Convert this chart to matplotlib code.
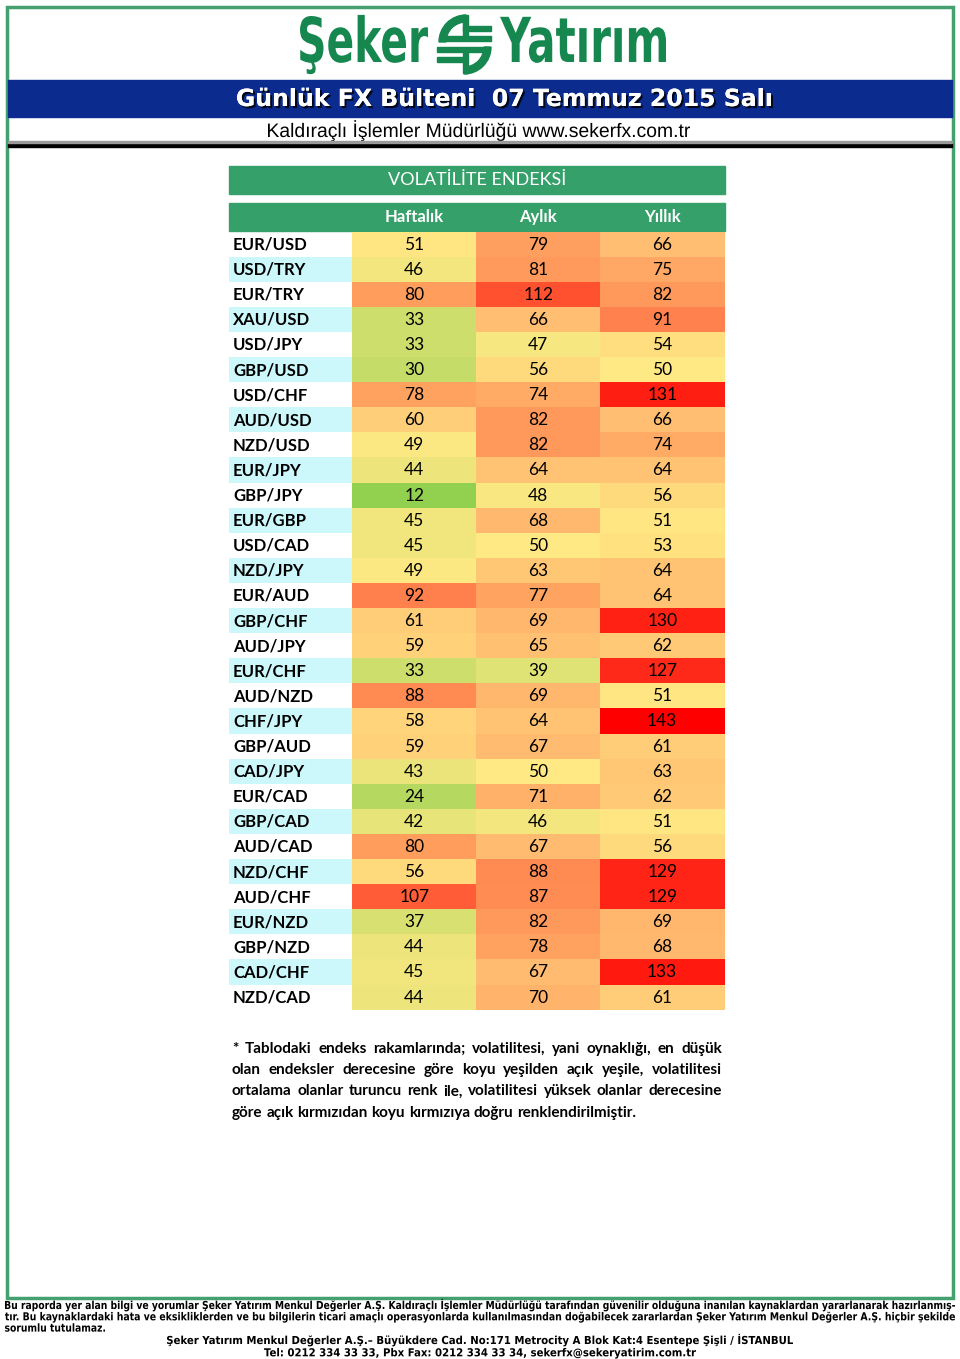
import matplotlib
matplotlib.use("Agg")
import matplotlib.pyplot as plt
from matplotlib.patches import Rectangle, Wedge, PathPatch
from matplotlib.colors import LinearSegmentedColormap, Normalize
from matplotlib.textpath import TextPath
from matplotlib.font_manager import FontProperties
from matplotlib.transforms import Affine2D
import matplotlib.patheffects as pe

# ---------------- data ----------------
pairs = ["EUR/USD", "USD/TRY", "EUR/TRY", "XAU/USD", "USD/JPY", "GBP/USD", "USD/CHF",
         "AUD/USD", "NZD/USD", "EUR/JPY", "GBP/JPY", "EUR/GBP", "USD/CAD", "NZD/JPY",
         "EUR/AUD", "GBP/CHF", "AUD/JPY", "EUR/CHF", "AUD/NZD", "CHF/JPY", "GBP/AUD",
         "CAD/JPY", "EUR/CAD", "GBP/CAD", "AUD/CAD", "NZD/CHF", "AUD/CHF", "EUR/NZD",
         "GBP/NZD", "CAD/CHF", "NZD/CAD"]
columns = ["Haftalık", "Aylık", "Yıllık"]
haftalik = [51, 46, 80, 33, 33, 30, 78, 60, 49, 44, 12, 45, 45, 49, 92, 61, 59, 33, 88, 58,
            59, 43, 24, 42, 80, 56, 107, 37, 44, 45, 44]
aylik = [79, 81, 112, 66, 47, 56, 74, 82, 82, 64, 48, 68, 50, 63, 77, 69, 65, 39, 69, 64,
         67, 50, 71, 46, 67, 88, 87, 82, 78, 67, 70]
yillik = [66, 75, 82, 91, 54, 50, 131, 66, 74, 64, 56, 51, 53, 64, 64, 130, 62, 127, 51, 143,
          61, 63, 62, 51, 56, 129, 129, 69, 68, 133, 61]
series = [haftalik, aylik, yillik]

title_text = "Günlük FX Bülteni  07 Temmuz 2015 Salı"
subtitle_text = "Kaldıraçlı İşlemler Müdürlüğü www.sekerfx.com.tr"
table_title = "VOLATİLİTE ENDEKSİ"
note_lines = [
    "* Tablodaki endeks rakamlarında; volatilitesi, yani oynaklığı, en düşük",
    "olan endeksler derecesine göre koyu yeşilden açık yeşile, volatilitesi",
    "ortalama olanlar turuncu renk ile, volatilitesi yüksek olanlar derecesine",
    "göre açık kırmızıdan koyu kırmızıya doğru renklendirilmiştir.",
]
disclaimer_lines = [
    "Bu raporda yer alan bilgi ve yorumlar Şeker Yatırım Menkul Değerler A.Ş. Kaldıraçlı İşlemler Müdürlüğü tarafından güvenilir olduğuna inanılan kaynaklardan yararlanarak hazırlanmış-",
    "tır. Bu kaynaklardaki hata ve eksikliklerden ve bu bilgilerin ticari amaçlı operasyonlarda kullanılmasından doğabilecek zararlardan Şeker Yatırım Menkul Değerler A.Ş. hiçbir şekilde",
    "sorumlu tutulamaz.",
]
address_lines = [
    "Şeker Yatırım Menkul Değerler A.Ş.– Büyükdere Cad. No:171 Metrocity A Blok Kat:4 Esentepe Şişli / İSTANBUL",
    "Tel: 0212 334 33 33, Pbx Fax: 0212 334 33 34, sekerfx@sekeryatirim.com.tr",
]

# ---------------- style ----------------
W, H = 960, 1359
fig = plt.figure(figsize=(W / 100, H / 100), dpi=100)
ax = fig.add_axes([0, 0, 1, 1])
ax.set_xlim(0, W)
ax.set_ylim(H, 0)
ax.axis("off")
renderer = fig.canvas.get_renderer()

GREEN = "#35A06A"
LOGO_GREEN = "#16874F"
NAVY = "#0B2C8E"
CYAN = "#CCF7FB"
TABLE_FONT = ["Lato", "DejaVu Sans"]

vmin, vmax = 12, 143
anchors = [(12, "#92D050"), (50, "#FFE984"), (68, "#FFB86E"), (88, "#FF8A52"),
           (112, "#FF5030"), (143, "#FF0000")]
cmap = LinearSegmentedColormap.from_list(
    "vol", [((v - vmin) / (vmax - vmin), c) for v, c in anchors])
norm = Normalize(vmin, vmax)


def fitted_text(s, x0, width, baseline, size, color, family="DejaVu Sans", weight="normal",
                center=None):
    """Text drawn as a path, stretched horizontally to a given pixel width."""
    fp = FontProperties(family=family, weight=weight)
    tp = TextPath((0, 0), s, size=size, prop=fp)
    bb = tp.get_extents()
    sx = width / bb.width
    if center is not None:
        x0 = center - width / 2
    tr = Affine2D().translate(-bb.x0, 0).scale(sx, -1).translate(x0, baseline)
    ax.add_patch(PathPatch(tr.transform_path(tp), fc=color, ec="none", lw=0))


# ---------------- page frame ----------------
ax.add_patch(Rectangle((7, 7), 946, 1291, fill=False, ec="#45A070", lw=2.5))

# logo
fitted_text("Şeker", 300, 128, 62, 62, LOGO_GREEN, weight="bold")
fitted_text("Yatırım", 500, 166, 62, 62, LOGO_GREEN, weight="bold")
cx, cy = 466, 42
ax.add_patch(Wedge((cx, cy), 27, 180, 270, width=7, color=LOGO_GREEN))
ax.add_patch(Rectangle((cx - 3, 15), 5, 22, color=LOGO_GREEN))
ax.add_patch(Rectangle((cx - 3, 26), 28, 5, color=LOGO_GREEN))
ax.add_patch(Rectangle((cx - 21, 36), 46, 5, color=LOGO_GREEN))
ax.add_patch(Rectangle((cx - 29, 47), 51, 5, color=LOGO_GREEN))
ax.add_patch(Rectangle((cx - 29, 57), 30, 5, color=LOGO_GREEN))
ax.add_patch(Rectangle((cx - 3, 52), 5, 21, color=LOGO_GREEN))
ax.add_patch(Wedge((cx - 2, cy + 5), 27, 0, 90, width=7, color=LOGO_GREEN))

# blue title band
ax.add_patch(Rectangle((8, 80), 944, 37, color=NAVY))
ax.text(505, 99, title_text, ha="center", va="center", fontsize=17, color="white",
        fontweight="bold", family=["DejaVu Sans"],
        path_effects=[pe.withSimplePatchShadow(offset=(1.5, -1.5), shadow_rgbFace="black", alpha=0.8),
                      pe.Normal()])
fitted_text(subtitle_text, 268, 422, 137, 19.5, "black", family="Liberation Sans")
ax.add_patch(Rectangle((8, 143), 944, 4, color="black"))
ax.add_patch(Rectangle((8, 141), 944, 2, color="#9A9A9A"))

# ---------------- table ----------------
x_label, x_cols = 229, [352, 476, 600]
col_w = 124.5
y0, row_h = 231.5, 25.1

ax.add_patch(Rectangle((229, 166), 496, 28, color=GREEN))
ax.text(477, 180, table_title, ha="center", va="center", fontsize=13, color="white",
        family=TABLE_FONT)
ax.add_patch(Rectangle((229, 203), 496, 28, color=GREEN))
for j, name in enumerate(columns):
    ax.text(x_cols[j] + col_w / 2, 217, name, ha="center", va="center", fontsize=12,
            color="white", family=TABLE_FONT, fontweight="bold")

for i, p in enumerate(pairs):
    top = y0 + i * row_h
    if i % 2 == 1:
        ax.add_patch(Rectangle((x_label, top), 123, row_h, color=CYAN, lw=0))
    ax.text(x_label + 4, top + row_h / 2 + 0.5, p, ha="left", va="center", fontsize=12,
            fontweight="bold", color="black", family=TABLE_FONT)
    for j, s in enumerate(series):
        v = s[i]
        ax.add_patch(Rectangle((x_cols[j], top), col_w, row_h + 0.3, color=cmap(norm(v)), lw=0))
        ax.text(x_cols[j] + col_w / 2, top + row_h / 2 + 0.5, str(v), ha="center",
                va="center", fontsize=12.5, color="black", family=TABLE_FONT)


def justified(line, x_left, x_right, y, justify=True, **kw):
    words = line.split(" ")
    texts = [ax.text(0, y, w, ha="left", va="center", **kw) for w in words]
    widths = [t.get_window_extent(renderer).width for t in texts]
    if justify and len(words) > 1:
        gap = (x_right - x_left - sum(widths)) / (len(words) - 1)
    else:
        sp = ax.text(0, y, "a a", **kw)
        sp2 = ax.text(0, y, "aa", **kw)
        gap = sp.get_window_extent(renderer).width - sp2.get_window_extent(renderer).width
        sp.remove(); sp2.remove()
    x = x_left
    for t, w in zip(texts, widths):
        t.set_x(x)
        x += w + gap


note_kw = dict(fontsize=11, fontweight="bold", color="black", family=TABLE_FONT)
for k, line in enumerate(note_lines):
    justified(line, 232, 722, 1049 + k * 21.2, justify=(k < len(note_lines) - 1), **note_kw)

# ---------------- footer ----------------
disc_widths = [950, 950, 100]
for k, line in enumerate(disclaimer_lines):
    fitted_text(line, 5, disc_widths[k], 1309 + k * 11.3, 11, "black", weight="bold")
addr_widths = [626, 432]
for k, line in enumerate(address_lines):
    fitted_text(line, 0, addr_widths[k], 1344 + k * 12.3, 11, "black", weight="bold",
                center=480)

fig.savefig("out.png", dpi=100)
